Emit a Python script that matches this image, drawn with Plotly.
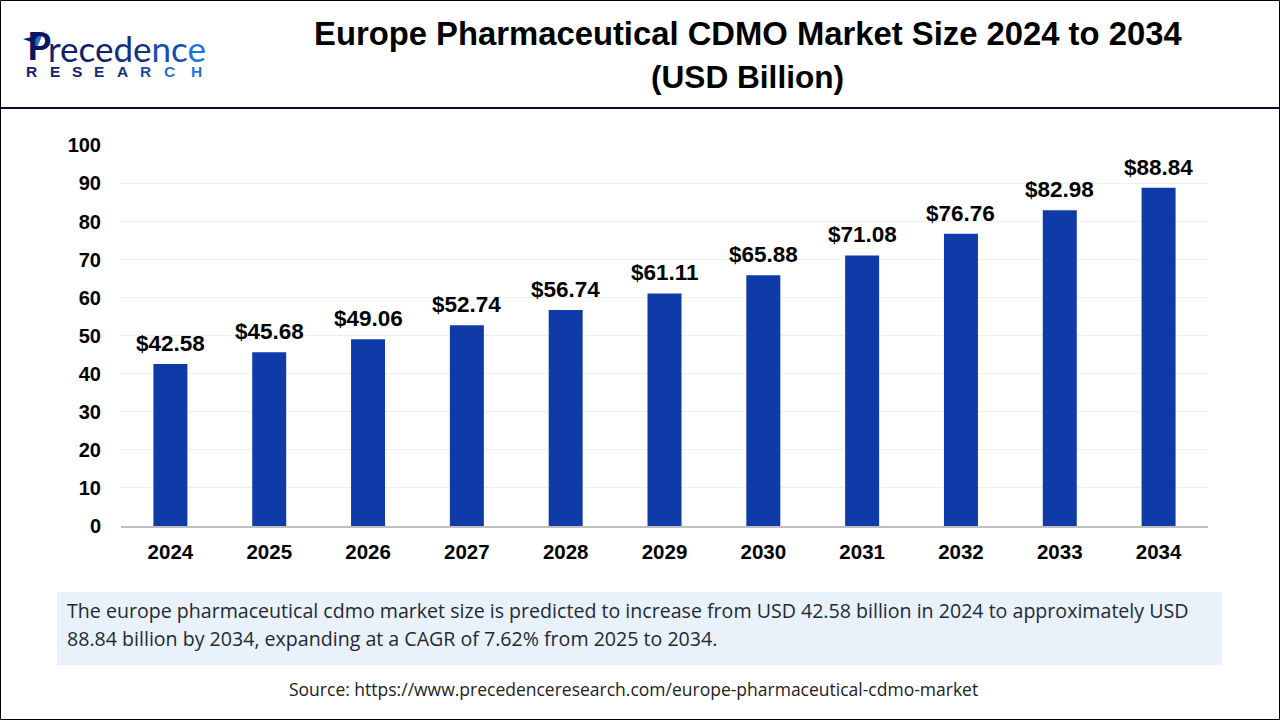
import plotly.graph_objects as go

# data
years = ['2024', '2025', '2026', '2027', '2028', '2029', '2030', '2031', '2032', '2033', '2034']
market_size = [42.58, 45.68, 49.06, 52.74, 56.74, 61.11, 65.88, 71.08, 76.76, 82.98, 88.84]
y_ticks = [0, 10, 20, 30, 40, 50, 60, 70, 80, 90, 100]
bar_labels = ['$' + format(v, '.2f') for v in market_size]

title_lines = ['Europe Pharmaceutical CDMO Market Size 2024 to 2034', '(USD Billion)']
summary_lines = ['The europe pharmaceutical cdmo market size is predicted to increase from USD 42.58 billion in 2024 '
                 'to approximately USD',
                 '88.84 billion by 2034, expanding at a CAGR of 7.62% from 2025 to 2034.']
source = 'Source: https://www.precedenceresearch.com/europe-pharmaceutical-cdmo-market'

W, H = 1280, 720
L, R, T, B = 121, 72, 145, 194

# pixel position -> paper coordinates, for the header and footer furniture
def px(x):
    return (x - L) / (W - L - R)

def py(y):
    return 1 - (y - T) / (H - T - B)

fig = go.Figure(go.Bar(
    x=years, y=market_size,
    marker=dict(color='#0F3BA8', line_width=0),
))

fig.update_layout(
    width=W, height=H, autosize=False, showlegend=False,
    margin=dict(l=L, r=R, t=T, b=B, pad=0),
    paper_bgcolor='white', plot_bgcolor='white', bargap=0.656,
    font=dict(family='Liberation Sans', color='#000000'),
)
fig.update_xaxes(
    type='category', showgrid=False, ticks='', showline=True, linecolor='#BFBFBF', linewidth=2,
    tickfont=dict(size=20.5, family='Liberation Sans', weight='bold'), ticklabelstandoff=6,
)
fig.update_yaxes(
    range=[0, 100.1], tickvals=y_ticks, showgrid=True, gridcolor='#EFEFEF', gridwidth=1,
    zeroline=False, ticks='', tickfont=dict(size=20, family='Liberation Sans', weight='bold'),
    ticklabelstandoff=19,
)

def box(x0, y0, x1, y1, **kw):
    fig.add_shape(type='rect', xref='paper', yref='paper', x0=px(x0), x1=px(x1), y0=py(y0), y1=py(y1), **kw)

def poly(points, color):
    d = 'M ' + ' L '.join(f'{px(x)} {py(y)}' for x, y in points) + ' Z'
    fig.add_shape(type='path', xref='paper', yref='paper', path=d, line_width=0, fillcolor=color)

def label(x, y, text, size, family='Liberation Sans', color='#000000', anchor='left', **kw):
    fig.add_annotation(xref='paper', yref='paper', x=px(x), y=py(y), text=text, showarrow=False,
                       xanchor=anchor, yanchor='middle', align=anchor,
                       font=dict(size=size, family=family, color=color), **kw)

# value labels sit on the bars, a bit higher than textposition outside would put them
# (annotations on a category axis take the category index, not the name)
for i, (value, text) in enumerate(zip(market_size, bar_labels)):
    fig.add_annotation(x=i, y=value, text=text, showarrow=False, yanchor='bottom', yshift=6,
                       font=dict(size=22.5, family='Liberation Sans', color='#000000', weight='bold'))

# frame, header rule, summary panel
box(0.5, 0.5, 1279.5, 719.5, line=dict(color='#000000', width=1), fillcolor='rgba(0,0,0,0)', layer='below')
box(0, 107, 1280, 109, line_width=0, fillcolor='#0B0B3B')
box(57, 592, 1222, 665, line_width=0, fillcolor='#E9F1FA', layer='below')

label(747.5, 33, '<b>' + title_lines[0] + '</b>', 32.8, anchor='center')
label(747.5, 77, '<b>' + title_lines[1] + '</b>', 31.6, anchor='center')
label(65, 610, summary_lines[0], 19.6, family='Open Sans', color='#1F2A36')
label(65, 638, summary_lines[1], 19.6, family='Open Sans', color='#1F2A36')
label(633, 689, source, 17.5, family='Open Sans', color='#222222', anchor='center')

# logo
poly([(23, 39), (41, 35), (34, 43)], '#0B1560')
poly([(44, 31), (36, 50), (33, 41)], '#1F6FD8')
label(25, 45, '<b>P</b>', 39, family='Lato', color='#0B1560')
label(46, 48,
      '<span style="color:#12206E">rece</span><span style="color:#14307F">de</span>'
      '<span style="color:#1A4DB0">nc</span><span style="color:#1F74DC">e</span>', 35, family='Lato')
logo_letters = ['R', 'E', 'S', 'E', 'A', 'R', 'C', 'H']
logo_colors = ['#12206E', '#12206E', '#12206E', '#14307F', '#14307F', '#1A4DB0', '#1F74DC', '#1F74DC']
logo_centers = [31, 55, 77, 99, 122, 145, 169, 196]
for letter, color, center in zip(logo_letters, logo_colors, logo_centers):
    label(center, 71.5, '<b>' + letter + '</b>', 15.5, color=color, anchor='center')

fig.write_html('out.html', config={'displayModeBar': False},
               post_script="document.body.style.margin='0';document.body.style.overflow='hidden';")
